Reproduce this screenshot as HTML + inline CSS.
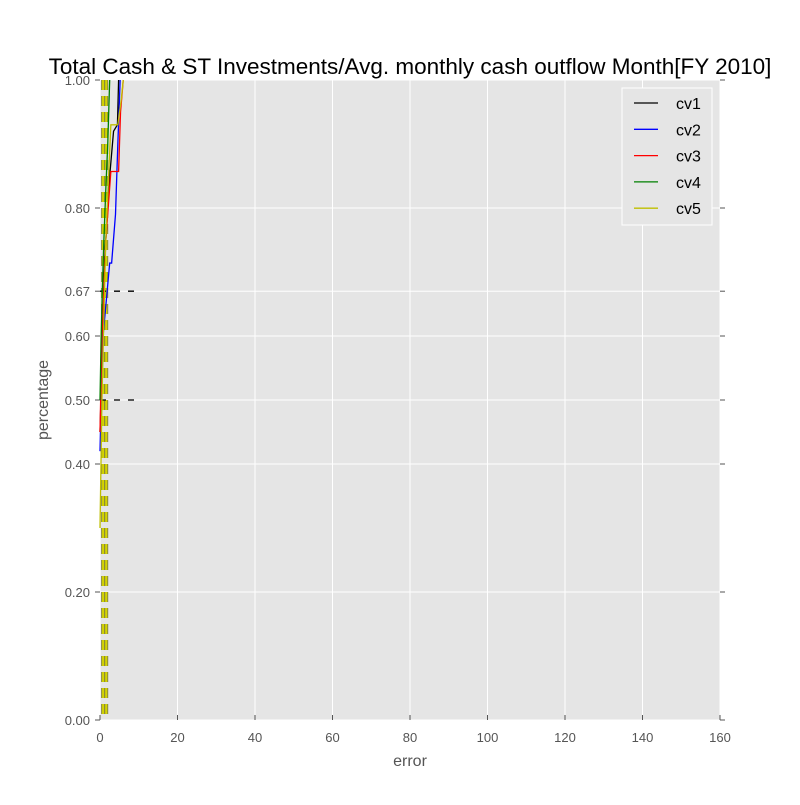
<!DOCTYPE html>
<html><head><meta charset="utf-8"><style>
body{margin:0;background:#fff}
svg text{font-family:"Liberation Sans","DejaVu Sans",sans-serif}
</style></head><body>
<svg id="chart" width="800" height="800" xmlns="http://www.w3.org/2000/svg">
<rect width="800" height="800" fill="#fff"/>
<rect x="100" y="80" width="620" height="640" fill="#e5e5e5"/>
<g id="grid"></g>
<g id="ticks"></g>
<g id="series"></g>
<text x="410" y="74" font-size="22.5" text-anchor="middle" fill="#000">Total Cash &amp; ST Investments/Avg. monthly cash outflow Month[FY 2010]</text>
<text x="410" y="766" font-size="16" text-anchor="middle" fill="#555">error</text>
<text x="48" y="400" font-size="16" text-anchor="middle" fill="#555" transform="rotate(-90 48 400)">percentage</text>
<g id="legend">
<rect x="622" y="88" width="90" height="137" fill="#e5e5e5" stroke="#fff" stroke-width="1"/>
</g>
</svg>
<script>
const xTicks=[0,20,40,60,80,100,120,140,160];
const yTicks=[0,0.2,0.4,0.5,0.6,0.67,0.8,1.0];
const yTickLabels=["0.00","0.20","0.40","0.50","0.60","0.67","0.80","1.00"];
const seriesNames=["cv1","cv2","cv3","cv4","cv5"];
const seriesColors=["#000000","#0000ff","#ff0000","#008000","#bfbf00"];
const cv1x=[0,0.8,1.0,1.2,2.5,3.5,4.5,4.8];
const cv1y=[0.45,0.62,0.68,0.72,0.85,0.92,0.93,1.0];
const cv2x=[0,0.5,0.8,2.5,3.0,4.0,4.6,5.2];
const cv2y=[0.42,0.55,0.6,0.714,0.714,0.79,0.9,1.0];
const cv3x=[0,0.5,1.0,1.5,2.8,4.8,5.3,6.0];
const cv3y=[0.45,0.6,0.67,0.75,0.857,0.857,0.95,1.0];
const cv4x=[0,0.3,0.6,1.0,1.5,2.0,2.5];
const cv4y=[0.5,0.6,0.67,0.75,0.83,0.9,1.0];
const cv5x=[0,0.5,1.0,1.5,2.8,4.6,5.5,6.0];
const cv5y=[0.3,0.5,0.63,0.75,0.93,0.93,0.97,1.0];
const hLinesY=[0.67,0.5];
const hLineEnd=9.5;
const vLinesX=[0.8,1.6];
const X=v=>100+v/160*620, Y=v=>720-v*640;
const NS="http://www.w3.org/2000/svg";
function mk(tag,attrs,parent){const e=document.createElementNS(NS,tag);for(const k in attrs)e.setAttribute(k,attrs[k]);parent.appendChild(e);return e;}
const grid=document.getElementById('grid'),ticks=document.getElementById('ticks'),ser=document.getElementById('series'),leg=document.getElementById('legend');
xTicks.forEach(t=>{
 const l=mk('line',{x1:X(t),x2:X(t),y1:80,y2:720,stroke:'#fff','stroke-width':1},grid);
 
 
 mk('line',{x1:X(t),x2:X(t),y1:720,y2:715,stroke:'#555'},ticks);
 const tx=mk('text',{x:X(t),y:742,'font-size':13,'text-anchor':'middle',fill:'#555'},ticks);
 tx.textContent=t;
 
 
});
yTicks.forEach((t,i)=>{
 const l=mk('line',{x1:100,x2:720,y1:Y(t),y2:Y(t),stroke:'#fff','stroke-width':1},grid);
 
 
 mk('line',{x1:95,x2:100,y1:Y(t),y2:Y(t),stroke:'#555'},ticks);
 mk('line',{x1:720,x2:725,y1:Y(t),y2:Y(t),stroke:'#555'},ticks);
 const tx=mk('text',{x:90,y:Y(t)+5,'font-size':13,'text-anchor':'end',fill:'#555'},ticks);
 tx.textContent=yTickLabels[i];
 
 
});
vLinesX.forEach(v=>{
 mk('line',{x1:X(v),x2:X(v),y1:80,y2:720,stroke:'#8a8a3a','stroke-width':4,'stroke-dasharray':'10 6'},ser);
 const l=mk('line',{x1:X(v),x2:X(v),y1:80,y2:720,stroke:'#d4d400','stroke-width':2,'stroke-dasharray':'10 6'},ser);
 
 
});
hLinesY.forEach(v=>{
 const l=mk('line',{x1:X(0),x2:X(hLineEnd),y1:Y(v),y2:Y(v),stroke:'#000','stroke-width':1.3,'stroke-dasharray':'6 8'},ser);
 
 
});
const allX=[cv1x,cv2x,cv3x,cv4x,cv5x],allY=[cv1y,cv2y,cv3y,cv4y,cv5y];
allX.forEach((xs,i)=>{
 const p=mk('polyline',{points:xs.map((x,j)=>X(x)+','+Y(allY[i][j])).join(' '),fill:'none',stroke:seriesColors[i],'stroke-width':1.3},ser);
 
 
});
seriesNames.forEach((n,i)=>{
 const y=103+i*26.3;
 mk('line',{x1:634,x2:658,y1:y,y2:y,stroke:seriesColors[i],'stroke-width':1.3},leg);
 const t=mk('text',{x:676,y:y+6,'font-size':16,fill:'#000'},leg);
 t.textContent=n;
 
 
});
</script>
</body></html>
